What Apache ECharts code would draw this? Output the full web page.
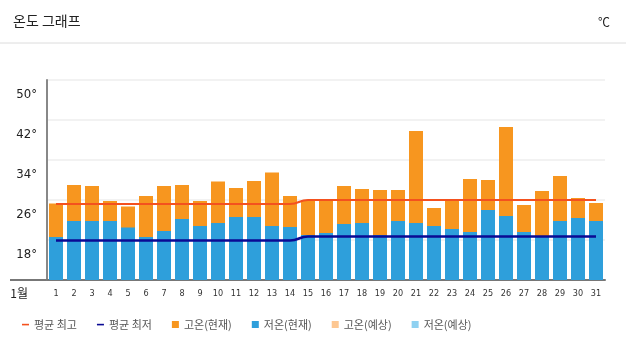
<!DOCTYPE html>
<html>
<head>
<meta charset="utf-8">
<script src="https://cdn.jsdelivr.net/npm/echarts@6/dist/echarts.min.js"></script>
<style>
  html, body { margin: 0; padding: 0; background: #fff; }
  #chart { width: 626px; height: 353px; }
</style>
</head>
<body>
<div id="chart"></div>
<script>
// 1월 일별 온도
var days = ['1','2','3','4','5','6','7','8','9','10','11','12','13','14','15','16',
  '17','18','19','20','21','22','23','24','25','26','27','28','29','30','31'];
var highNow = [25.3, 29, 28.8, 25.8, 24.7, 26.8, 28.8, 29, 25.8, 29.7, 28.4, 29.8, 31.5, 26.8, 26,
  25.9, 28.8, 28.2, 28, 28, 39.8, 24.4, 25.9, 30.2, 30, 40.6, 25, 27.8, 30.8, 26.4, 25.4];
var lowNow = [18.6, 21.8, 21.8, 21.8, 20.5, 18.6, 19.8, 22.2, 20.8, 21.4, 22.6, 22.6, 20.8, 20.6, 19,
  19.4, 21.2, 21.4, 19, 21.8, 21.4, 20.8, 20.2, 19.6, 24, 22.8, 19.6, 18.8, 21.8, 22.4, 21.8];
var avgHigh = [25.2, 25.2, 25.2, 25.2, 25.2, 25.2, 25.2, 25.2, 25.2, 25.2, 25.2, 25.2, 25.2, 25.2,
  26, 26, 26, 26, 26, 26, 26, 26, 26, 26, 26, 26, 26, 26, 26, 26, 26];
var avgLow = [17.9, 17.9, 17.9, 17.9, 17.9, 17.9, 17.9, 17.9, 17.9, 17.9, 17.9, 17.9, 17.9, 17.9,
  18.7, 18.7, 18.7, 18.7, 18.7, 18.7, 18.7, 18.7, 18.7, 18.7, 18.7, 18.7, 18.7, 18.7, 18.7, 18.7, 18.7];
var highFcst = [];
var lowFcst = [];

var krFont = '"Noto Sans CJK KR", "Noto Sans", sans-serif';
var numFont = '"DejaVu Sans Condensed", "DejaVu Sans", sans-serif';
// 범례용 짧은 선 아이콘
var dashIcon = 'path://M0,0L0,0M0,2.8H7V4.4H0ZM7,7L7,7';

var myChart = echarts.init(document.getElementById('chart'));
myChart.setOption({
  animation: false,
  title: [
    { text: '온도 그래프', left: 8, top: 9, textStyle: { fontSize: 14, fontWeight: 'normal', color: '#222', fontFamily: krFont } },
    { text: '℃', right: 11, top: 11, textStyle: { fontSize: 12, fontWeight: 'normal', color: '#222', fontFamily: krFont } }
  ],
  graphic: [
    { type: 'line', shape: { x1: 0, y1: 43, x2: 626, y2: 43 }, style: { stroke: '#dcdcdc', lineWidth: 1 } },
    { type: 'line', shape: { x1: 10, y1: 280, x2: 48, y2: 280 }, style: { stroke: '#777', lineWidth: 2 } }
  ],
  legend: {
    left: 17,
    top: 314,
    itemWidth: 7,
    itemHeight: 7,
    itemGap: 20,
    textStyle: { fontSize: 11, color: '#555', fontFamily: krFont },
    data: [
      { name: '평균 최고', icon: dashIcon },
      { name: '평균 최저', icon: dashIcon },
      { name: '고온(현재)', icon: 'rect' },
      { name: '저온(현재)', icon: 'rect' },
      { name: '고온(예상)', icon: 'rect' },
      { name: '저온(예상)', icon: 'rect' }
    ]
  },
  grid: { left: 47, right: 21, top: 80, bottom: 73 },
  xAxis: {
    type: 'category',
    data: days,
    name: '1월',
    nameLocation: 'start',
    nameGap: 19,
    nameTextStyle: { fontSize: 12, color: '#222', fontFamily: krFont, verticalAlign: 'top', lineHeight: 26 },
    axisTick: { show: false },
    axisLine: { lineStyle: { color: '#777', width: 2 } },
    axisLabel: { fontSize: 9, color: '#333', margin: 9, interval: 0, fontFamily: numFont }
  },
  yAxis: {
    type: 'value',
    min: 10,
    max: 50,
    interval: 8,
    axisLine: { show: true, lineStyle: { color: '#888', width: 2 } },
    axisTick: { show: false },
    splitLine: { lineStyle: { color: '#eeeeee', width: 1.5 } },
    axisLabel: {
      fontSize: 13,
      color: '#222',
      margin: 10,
      fontFamily: numFont,
      verticalAlign: 'top',
      lineHeight: 30,
      formatter: function (v) { return v === 10 ? '' : v + '°'; }
    }
  },
  series: [
    {
      name: '평균 최고', type: 'line', data: avgHigh, symbol: 'none', smooth: true, smoothMonotone: 'x', z: 5,
      lineStyle: { color: '#f4511e', width: 2 }, itemStyle: { color: '#f4511e' }
    },
    {
      name: '평균 최저', type: 'line', data: avgLow, symbol: 'none', smooth: true, smoothMonotone: 'x', z: 5,
      lineStyle: { color: '#0a0a94', width: 2.5 }, itemStyle: { color: '#0a0a94' }
    },
    { name: '고온(현재)', type: 'bar', data: highNow, barWidth: 14, barGap: '-100%', itemStyle: { color: '#f7961f' } },
    { name: '저온(현재)', type: 'bar', data: lowNow, barWidth: 14, barGap: '-100%', itemStyle: { color: '#2e9fdb' } },
    { name: '고온(예상)', type: 'bar', data: highFcst, barWidth: 14, barGap: '-100%', itemStyle: { color: '#fdc792' } },
    { name: '저온(예상)', type: 'bar', data: lowFcst, barWidth: 14, barGap: '-100%', itemStyle: { color: '#8fd1f1' } }
  ]
});
</script>
</body>
</html>
